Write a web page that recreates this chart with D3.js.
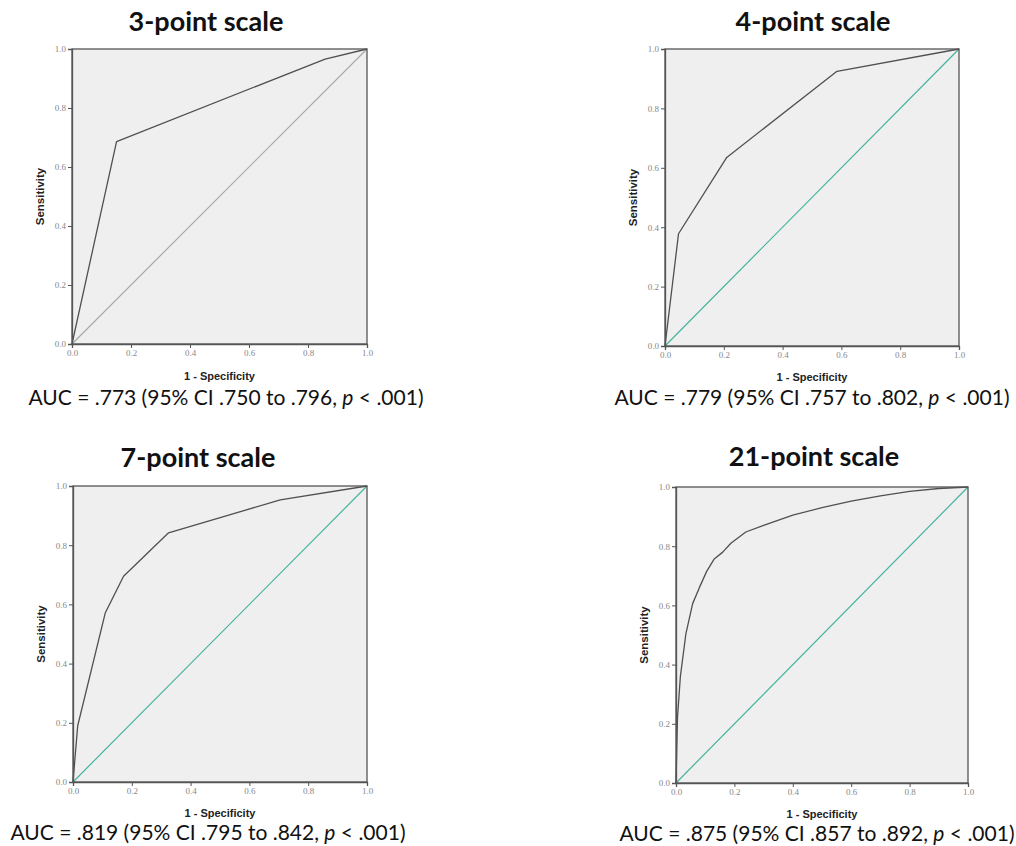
<!DOCTYPE html>
<html>
<head>
<meta charset="utf-8">
<script src="https://cdn.jsdelivr.net/npm/d3@7"></script>
<style>
  body { margin: 0; background: #fff; }
  svg { display: block; }
</style>
</head>
<body>
<div id="chart"></div>
<script>
// ---- data ----
var titles = ["3-point scale", "4-point scale", "7-point scale", "21-point scale"];
var aucMain = [
    "AUC = .773 (95% CI .750 to .796, ",
    "AUC = .779 (95% CI .757 to .802, ",
    "AUC = .819 (95% CI .795 to .842, ",
    "AUC = .875 (95% CI .857 to .892, "
];
var aucP = "< .001)";

// ROC points: [1 - specificity, sensitivity]
var roc3 = [[0, 0], [0.151, 0.686], [0.858, 0.966], [1, 1]];
var roc4 = [[0, 0], [0.046, 0.378], [0.21, 0.635], [0.585, 0.925], [1, 1]];
var roc7 = [[0, 0], [0.016, 0.19], [0.11, 0.572], [0.172, 0.695], [0.325, 0.842], [0.705, 0.953], [1, 1]];
var roc21 = [[0, 0], [0.005, 0.22], [0.015, 0.36], [0.034, 0.505], [0.057, 0.606], [0.08, 0.66],
             [0.105, 0.715], [0.131, 0.757], [0.16, 0.78], [0.188, 0.81], [0.239, 0.848], [0.3, 0.87],
             [0.4, 0.905], [0.5, 0.93], [0.6, 0.952], [0.7, 0.97], [0.8, 0.985], [0.9, 0.995], [1, 1]];
var curves = [roc3, roc4, roc7, roc21];
var diagonal = [[0, 0], [1, 1]];
var tickValues = [0, 0.2, 0.4, 0.6, 0.8, 1.0];

// ---- layout ----
var W = 1016, H = 846;
var panels = [
    {x0: 72, x1: 367, y0: 49, y1: 344, titleX: 206, titleY: 31, labY: 380, aucX: 226, aucY: 405, diag: "#a8a8a8"},
    {x0: 665, x1: 959, y0: 49, y1: 346, titleX: 813, titleY: 31, labY: 381, aucX: 812, aucY: 405, diag: "#45b39c"},
    {x0: 73, x1: 367, y0: 486, y1: 782, titleX: 198, titleY: 467, labY: 817, aucX: 208, aucY: 840, diag: "#45b39c"},
    {x0: 676, x1: 968, y0: 487, y1: 783, titleX: 814, titleY: 466, labY: 818, aucX: 817, aucY: 841, diag: "#45b39c"}
];

var svg = d3.select("#chart").append("svg")
    .attr("width", W).attr("height", H);

panels.forEach(function(p, i) {
    var x = d3.scaleLinear().domain([0, 1]).range([p.x0, p.x1]);
    var y = d3.scaleLinear().domain([0, 1]).range([p.y1, p.y0]);
    var g = svg.append("g");

    // plot background
    g.append("rect")
        .attr("x", p.x0).attr("y", p.y0)
        .attr("width", p.x1 - p.x0).attr("height", p.y1 - p.y0)
        .attr("fill", "#efefef");

    // reference diagonal
    var line = d3.line().x(function(d) { return x(d[0]); }).y(function(d) { return y(d[1]); });
    g.append("path").datum(diagonal)
        .attr("d", line)
        .attr("fill", "none")
        .attr("stroke", p.diag)
        .attr("stroke-width", 1.2);

    // ROC curve
    g.append("path").datum(curves[i])
        .attr("d", line)
        .attr("fill", "none")
        .attr("stroke", "#505050")
        .attr("stroke-width", 1.3)
        .attr("stroke-linejoin", "round");

    // frame
    g.append("rect")
        .attr("x", p.x0).attr("y", p.y0)
        .attr("width", p.x1 - p.x0).attr("height", p.y1 - p.y0)
        .attr("fill", "none")
        .attr("stroke", "#555")
        .attr("stroke-width", 1.3);

    // axes
    var xAxis = g.append("g")
        .attr("transform", "translate(0," + p.y1 + ")")
        .call(d3.axisBottom(x).tickValues(tickValues).tickFormat(d3.format(".1f")).tickSize(4).tickPadding(2));
    var yAxis = g.append("g")
        .attr("transform", "translate(" + p.x0 + ",0)")
        .call(d3.axisLeft(y).tickValues(tickValues).tickFormat(d3.format(".1f")).tickSize(4).tickPadding(2));
    [xAxis, yAxis].forEach(function(a) {
        a.select(".domain").attr("stroke", "#555").attr("stroke-width", 1.3);
        a.selectAll(".tick line").attr("stroke", "#555");
        a.selectAll(".tick text")
            .attr("fill", "#888")
            .style("font-family", "'Liberation Serif', serif")
            .style("font-size", "9px");
    });

    // axis titles
    g.append("text")
        .attr("x", (p.x0 + p.x1) / 2).attr("y", p.labY)
        .attr("text-anchor", "middle")
        .style("font-family", "'Liberation Sans', Arial, sans-serif")
        .style("font-weight", "bold").style("font-size", "11px")
        .attr("fill", "#222")
        .text("1 - Specificity");
    g.append("text")
        .attr("transform", "translate(" + (p.x0 - 28) + "," + ((p.y0 + p.y1) / 2) + ") rotate(-90)")
        .attr("text-anchor", "middle")
        .style("font-family", "'Liberation Sans', Arial, sans-serif")
        .style("font-weight", "bold").style("font-size", "11.5px")
        .attr("fill", "#222")
        .text("Sensitivity");

    // panel title
    g.append("text")
        .attr("x", p.titleX).attr("y", p.titleY)
        .attr("text-anchor", "middle")
        .style("font-family", "Lato, 'Open Sans', sans-serif")
        .style("font-weight", "bold").style("font-size", "27px")
        .attr("fill", "#111")
        .text(titles[i]);

    // AUC caption
    var t = g.append("text")
        .attr("x", p.aucX).attr("y", p.aucY)
        .attr("text-anchor", "middle")
        .style("font-family", "Lato, 'Open Sans', sans-serif")
        .style("font-size", "21px")
        .attr("fill", "#111");
    t.append("tspan").text(aucMain[i]);
    t.append("tspan").style("font-style", "italic").text("p");
    t.append("tspan").text(" " + aucP);
});
</script>
</body>
</html>
